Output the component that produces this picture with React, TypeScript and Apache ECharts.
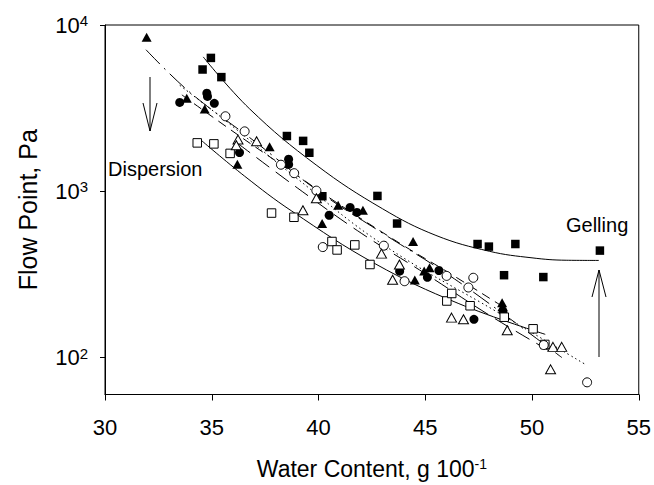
import React, { useEffect, useRef } from "react";
import * as echarts from "echarts";

// Axis ticks
const xTicks = [30, 35, 40, 45, 50, 55];
const yTicks = [100, 1000, 10000];

// Filled squares
const filledSquareX = [34.57, 34.96, 35.45, 38.52, 39.28, 39.57, 40.18, 42.76, 43.68, 47.45, 47.98, 49.22, 53.18, 48.69, 50.53];
const filledSquareY = [5400, 6340, 4860, 2150, 2010, 1705, 934, 938, 640, 482, 465, 482, 440, 313, 305];

// Filled circles
const filledCircleX = [33.5, 34.77, 34.8, 35.12, 36.3, 38.6, 38.6, 40.5, 41.48, 41.8, 43.8, 45.1, 45.64, 47.28, 48.64];
const filledCircleY = [3425, 3890, 3720, 3380, 1710, 1560, 1450, 718, 800, 746, 331, 304, 334, 170, 190];

// Filled triangles
const filledTriangleX = [31.95, 33.83, 34.67, 36.2, 37.71, 40.17, 40.92, 42.08, 44.43, 44.51, 44.95, 45.2, 48.6, 48.62];
const filledTriangleY = [8450, 3630, 3125, 1455, 1855, 640, 824, 770, 499, 293, 332, 347, 214, 203];

// Open squares
const openSquareX = [34.32, 35.1, 35.86, 37.8, 38.85, 40.63, 40.87, 41.7, 42.41, 46.01, 46.24, 47.1, 48.7, 50.05, 50.6];
const openSquareY = [1955, 1928, 1690, 740, 698, 499, 444, 476, 363, 219, 243, 205, 175, 149, 120];

// Open circles
const openCircleX = [35.64, 36.54, 38.24, 38.86, 39.9, 40.2, 43.06, 44.03, 46.0, 47.02, 47.25, 50.55, 52.58];
const openCircleY = [2826, 2293, 1445, 1285, 1009, 462, 471, 288, 310, 264, 302, 119, 71];

// Open triangles
const openTriangleX = [36.23, 36.15, 37.1, 39.27, 39.9, 42.95, 43.79, 43.47, 46.23, 46.79, 48.84, 50.98, 51.39, 50.87];
const openTriangleY = [2046, 1893, 2000, 769, 908, 422, 363, 294, 174, 170, 146, 116, 116, 85];

// Fitted curves
const fitFilledSquareX = [34.6, 36.78, 39.89, 43.0, 45.5, 48.0, 50.0, 51.6, 53.13];
const fitFilledSquareY = [6430, 3125, 1440, 785, 543, 436, 398, 385, 384];

const fitOpenSquareX = [34.5, 36.54, 38.75, 42.65, 46.54, 50.62];
const fitOpenSquareY = [2030, 1233, 760, 367, 212, 138];

const fitFilledTriangleX = [31.92, 33.97, 37.0, 40.0, 43.0, 46.0, 49.0, 51.4];
const fitFilledTriangleY = [7100, 3945, 2000, 1000, 560, 320, 170, 100];

const fitOpenCircleX = [33.5, 35.5, 38.8, 43.0, 48.46, 52.5];
const fitOpenCircleY = [4340, 2750, 1250, 480, 185, 91];

const fitFilledCircleX = [33.6, 36.3, 38.6, 41.0, 44.0, 46.0, 48.7];
const fitFilledCircleY = [3800, 2150, 1350, 830, 470, 330, 200];

const fitOpenTriangleX = [36.2, 39.0, 42.0, 45.0, 48.0, 50.8];
const fitOpenTriangleY = [1950, 1050, 560, 320, 180, 110];

const FONT = "'Liberation Sans', Arial, Helvetica, sans-serif";

const pairs = (xs: number[], ys: number[]) => xs.map((x, i) => [x, ys[i]]);

function scatter(name: string, xs: number[], ys: number[], symbol: string, filled: boolean, size: any) {
  return {
    name,
    type: "scatter",
    data: pairs(xs, ys),
    symbol,
    symbolSize: size,
    z: 5,
    itemStyle: filled
      ? { color: "#000", borderColor: "#000", borderWidth: 0, opacity: 1 }
      : { color: "#fff", borderColor: "#000", borderWidth: 1, opacity: 1 },
  };
}

function fit(name: string, xs: number[], ys: number[], dash: any) {
  return {
    name,
    type: "line",
    data: pairs(xs, ys),
    showSymbol: false,
    symbol: "none",
    smooth: 0.4,
    z: 2,
    silent: true,
    lineStyle: { color: "#000", width: 1, type: dash },
  };
}

export default function App() {
  const ref = useRef<HTMLDivElement>(null);

  useEffect(() => {
    if (!ref.current) return;
    const chart = echarts.init(ref.current, null, { renderer: "svg" });
    const option: any = {
      animation: false,
      backgroundColor: "#fff",
      textStyle: { fontFamily: FONT },
      grid: {
        left: 105,
        right: 14,
        top: 25,
        bottom: 86,
        show: true,
        borderColor: "#000",
        borderWidth: 1,
        containLabel: false,
      },
      xAxis: {
        type: "value",
        min: 30,
        max: 55,
        interval: 5,
        axisLine: { show: true, onZero: false, lineStyle: { color: "#000", width: 1 } },
        axisTick: { show: true, inside: false, length: 6, lineStyle: { color: "#000", width: 1 } },
        axisLabel: { color: "#000", fontSize: 22, fontFamily: FONT, margin: 22, customValues: xTicks },
        splitLine: { show: false },
        name: "{a|Water Content, g 100}{s|-1}",
        nameLocation: "middle",
        nameGap: 62,
        nameTextStyle: {
          color: "#000",
          fontFamily: FONT,
          rich: {
            a: { fontSize: 23, fontFamily: FONT, color: "#000", lineHeight: 24 },
            s: { fontSize: 14, fontFamily: FONT, color: "#000", verticalAlign: "top", lineHeight: 24 },
          },
        },
      },
      yAxis: {
        type: "log",
        logBase: 10,
        min: 60,
        max: 10000,
        axisLine: { show: true, onZero: false, lineStyle: { color: "#000", width: 1 } },
        axisTick: { show: true, inside: false, length: 5, customValues: yTicks, lineStyle: { color: "#000", width: 1 } },
        minorTick: { show: false },
        axisLabel: {
          customValues: yTicks,
          margin: 17,
          formatter: (v: number) => `{b|10}{s|${Math.round(Math.log10(v))}}`,
          rich: {
            b: { fontSize: 22, fontFamily: FONT, color: "#000", lineHeight: 24 },
            s: { fontSize: 15, fontFamily: FONT, color: "#000", verticalAlign: "top", lineHeight: 24 },
          },
        },
        splitLine: { show: false },
        name: "Flow Point, Pa",
        nameLocation: "middle",
        nameGap: 65,
        nameRotate: 90,
        nameTextStyle: { color: "#000", fontSize: 25, fontFamily: FONT },
      },
      series: [
        fit("Fit filled squares", fitFilledSquareX, fitFilledSquareY, "solid"),
        fit("Fit open squares", fitOpenSquareX, fitOpenSquareY, "solid"),
        fit("Fit filled triangles", fitFilledTriangleX, fitFilledTriangleY, [20, 6, 2, 6]),
        fit("Fit open circles", fitOpenCircleX, fitOpenCircleY, [1.5, 3]),
        fit("Fit filled circles", fitFilledCircleX, fitFilledCircleY, [9, 6]),
        fit("Fit open triangles", fitOpenTriangleX, fitOpenTriangleY, [16, 8]),
        scatter("Filled squares", filledSquareX, filledSquareY, "rect", true, 8.5),
        scatter("Filled circles", filledCircleX, filledCircleY, "circle", true, 9),
        scatter("Filled triangles", filledTriangleX, filledTriangleY, "triangle", true, [10, 9]),
        scatter("Open squares", openSquareX, openSquareY, "rect", false, 8.5),
        scatter("Open circles", openCircleX, openCircleY, "circle", false, 9),
        scatter("Open triangles", openTriangleX, openTriangleY, "triangle", false, [10, 9]),
      ],
      graphic: [
        {
          type: "text",
          x: 108,
          y: 169,
          style: { text: "Dispersion", font: `20px ${FONT}`, fill: "#000", textAlign: "left", textVerticalAlign: "middle" },
        },
        {
          type: "text",
          x: 566,
          y: 225,
          style: { text: "Gelling", font: `20px ${FONT}`, fill: "#000", textAlign: "left", textVerticalAlign: "middle" },
        },
        { type: "line", shape: { x1: 150, y1: 77, x2: 150, y2: 131 }, style: { stroke: "#000", lineWidth: 1 } },
        { type: "polyline", shape: { points: [[143, 103], [150, 131], [157, 103]] }, style: { stroke: "#000", lineWidth: 1, fill: null } },
        { type: "line", shape: { x1: 599, y1: 357, x2: 599, y2: 270 }, style: { stroke: "#000", lineWidth: 1 } },
        { type: "polyline", shape: { points: [[592, 297], [599, 270], [606, 297]] }, style: { stroke: "#000", lineWidth: 1, fill: null } },
      ],
    };
    chart.setOption(option);
    return () => chart.dispose();
  }, []);

  return (
    <div
      ref={ref}
      style={{ position: "fixed", left: 0, top: 0, width: 654, height: 485, background: "#fff" }}
    />
  );
}
